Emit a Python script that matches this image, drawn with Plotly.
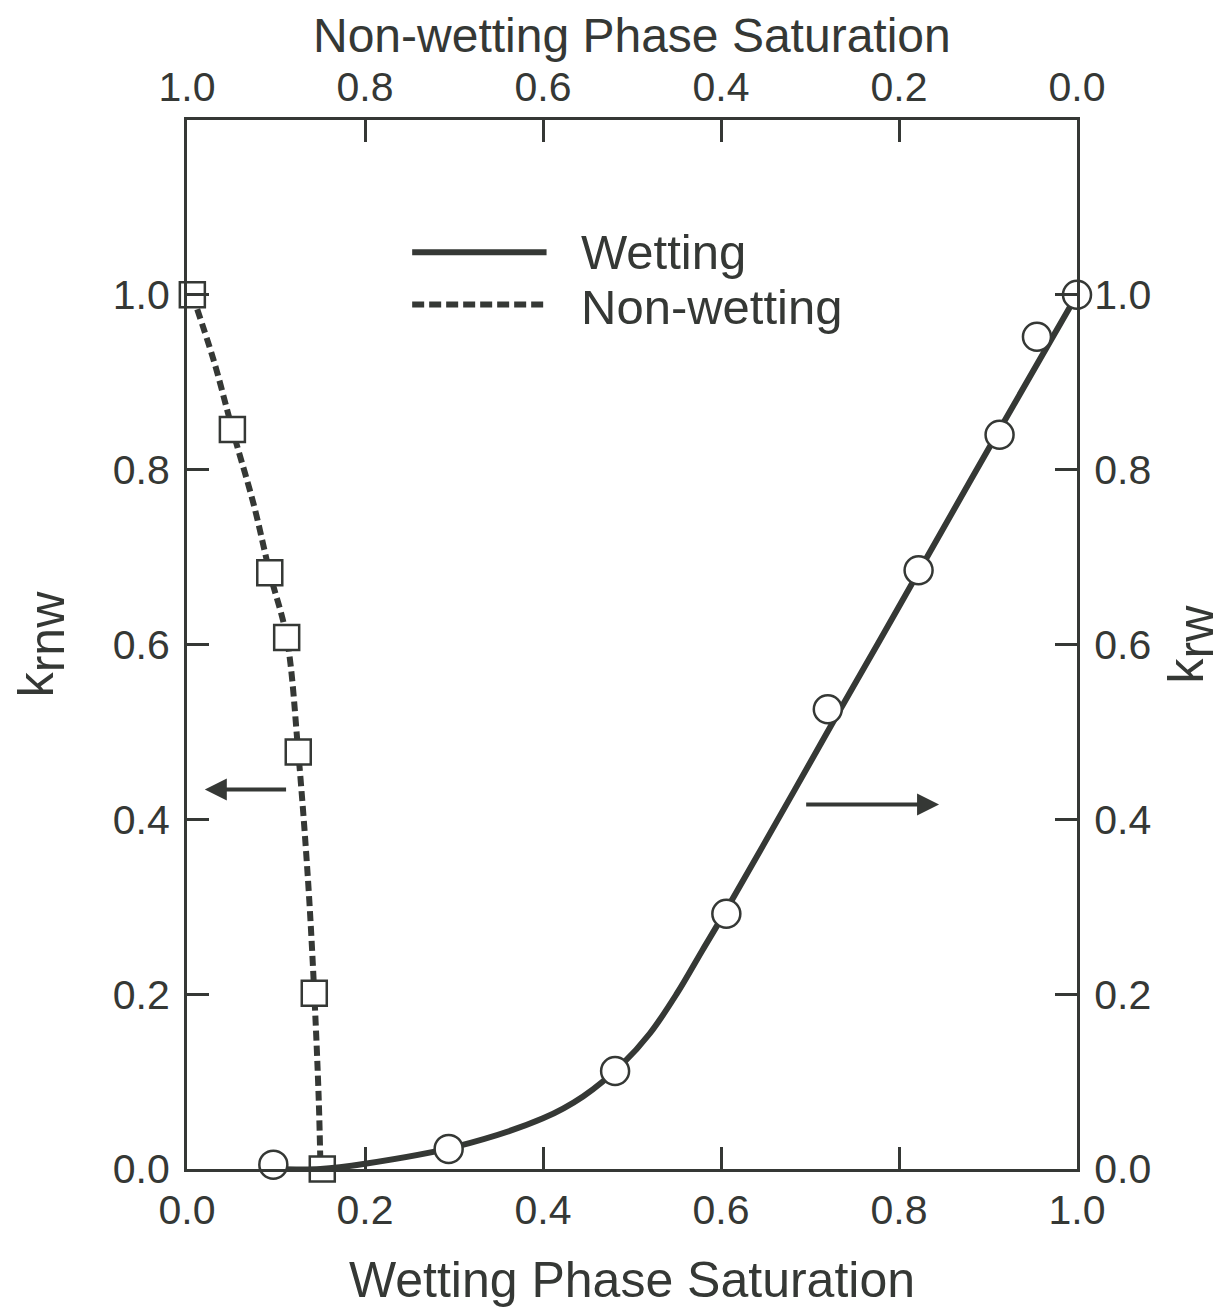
import plotly.graph_objects as go

# wetting phase saturation (bottom axis) vs k_rw (right axis)
sw_wet_pts = [0.097, 0.294, 0.481, 0.606, 0.720, 0.822, 0.913, 0.955, 1.0]
krw_pts = [0.005, 0.023, 0.112, 0.292, 0.526, 0.685, 0.840, 0.952, 1.0]

# fitted wetting curve
sw_wet_curve = [0.10, 0.15, 0.20, 0.30, 0.40, 0.445, 0.489, 0.52, 0.55, 0.579, 0.604, 0.683, 0.728, 0.778, 0.822, 0.913, 1.0]
krw_curve = [0.0, 0.0, 0.006, 0.025, 0.058, 0.083, 0.120, 0.155, 0.200, 0.250, 0.293, 0.434, 0.515, 0.604, 0.683, 0.846, 1.0]

# non-wetting data vs k_rnw (left axis)
sw_nw_pts = [0.006, 0.051, 0.093, 0.112, 0.125, 0.143, 0.152]
krnw_pts = [1.0, 0.846, 0.682, 0.608, 0.477, 0.201, 0.0]

sw_nw_curve = [0.006, 0.030, 0.051, 0.075, 0.093, 0.112, 0.125, 0.136, 0.143, 0.148, 0.150]
krnw_curve = [1.0, 0.925, 0.846, 0.760, 0.682, 0.608, 0.477, 0.330, 0.201, 0.080, 0.0]

ticks = [0.0, 0.2, 0.4, 0.6, 0.8, 1.0]
tick_text = ['0.0', '0.2', '0.4', '0.6', '0.8', '1.0']

ink = '#353835'
font_name = 'Liberation Sans, Arial, sans-serif'

fig = go.Figure()

fig.add_trace(go.Scatter(x=sw_nw_curve, y=krnw_curve, mode='lines', line_shape='spline',
                         line=dict(color=ink, width=6, dash='10px,5px'), showlegend=False))
fig.add_trace(go.Scatter(x=sw_wet_curve, y=krw_curve, mode='lines', line_shape='spline',
                         line=dict(color=ink, width=6, smoothing=1.0), yaxis='y2', showlegend=False))
fig.add_trace(go.Scatter(x=sw_nw_pts, y=krnw_pts, mode='markers', cliponaxis=False,
                         marker=dict(symbol='square', size=25, color='white',
                                     line=dict(color=ink, width=2.5)), showlegend=False))
fig.add_trace(go.Scatter(x=sw_wet_pts, y=krw_pts, mode='markers', yaxis='y2', cliponaxis=False,
                         marker=dict(symbol='circle', size=28, color='white',
                                     line=dict(color=ink, width=2.5)), showlegend=False))
# invisible trace so the top axis is drawn
fig.add_trace(go.Scatter(x=[None], y=[None], xaxis='x2', showlegend=False))

axis_common = dict(showline=True, linecolor=ink, linewidth=3, ticks='inside', ticklen=22,
                   tickwidth=3, tickcolor=ink, showgrid=False, zeroline=False, automargin=False,
                   tickfont=dict(size=41, color=ink, family=font_name))

title_font = dict(size=50, color=ink, family=font_name)

fig.update_layout(
    width=1231, height=1312,
    paper_bgcolor='white', plot_bgcolor='white',
    margin=dict(l=179, r=162, t=112, b=151),
    font=dict(family=font_name, color=ink),
    xaxis=dict(range=[0, 1], tickvals=ticks, ticktext=tick_text, ticklabelstandoff=3,
               title=dict(text='Wetting Phase Saturation', font=title_font, standoff=30),
               **axis_common),
    xaxis2=dict(range=[1, 0], overlaying='x', side='top', tickvals=ticks, ticktext=tick_text,
                ticklabelstandoff=0, **axis_common),
    yaxis=dict(range=[0, 1.2], tickvals=ticks, ticktext=tick_text, ticklabelstandoff=6,
               title=dict(text='k<sub><span style="font-size:50px">rnw</span></sub>',
                          font=title_font, standoff=44),
               **axis_common),
    yaxis2=dict(range=[0, 1.2], overlaying='y', side='right', tickvals=ticks, ticktext=tick_text,
                ticklabelstandoff=6,
                title=dict(text='k<sub><span style="font-size:50px">rw</span></sub>',
                           font=title_font, standoff=18),
                **axis_common),
)

# title of the top (non-wetting) axis
fig.add_annotation(xref='paper', yref='paper', x=0.5, y=1.081, text='Non-wetting Phase Saturation',
                   showarrow=False, xanchor='center', yanchor='middle',
                   font=dict(size=48, color=ink, family=font_name))

# hand-drawn legend inside the frame
fig.add_shape(type='line', xref='paper', yref='paper', x0=0.253, x1=0.404, y0=0.874, y1=0.874,
              line=dict(color=ink, width=6))
fig.add_shape(type='line', xref='paper', yref='paper', x0=0.253, x1=0.404, y0=0.824, y1=0.824,
              line=dict(color=ink, width=6, dash='12px,5px'))
fig.add_annotation(xref='paper', yref='paper', x=0.440, y=0.874, text='Wetting', showarrow=False,
                   xanchor='left', yanchor='middle', font=dict(size=49, color=ink))
fig.add_annotation(xref='paper', yref='paper', x=0.440, y=0.822, text='Non-wetting', showarrow=False,
                   xanchor='left', yanchor='middle', font=dict(size=49, color=ink))

# arrows pointing to the relevant axis
fig.add_annotation(x=0.020, y=0.434, ax=0.113, ay=0.434, xref='x', yref='y', axref='x', ayref='y',
                   text='', showarrow=True, arrowhead=2, arrowsize=1.1, arrowwidth=4, arrowcolor=ink)
fig.add_annotation(x=0.845, y=0.417, ax=0.694, ay=0.417, xref='x', yref='y', axref='x', ayref='y',
                   text='', showarrow=True, arrowhead=2, arrowsize=1.1, arrowwidth=4, arrowcolor=ink)

fig.write_html('out.html')
